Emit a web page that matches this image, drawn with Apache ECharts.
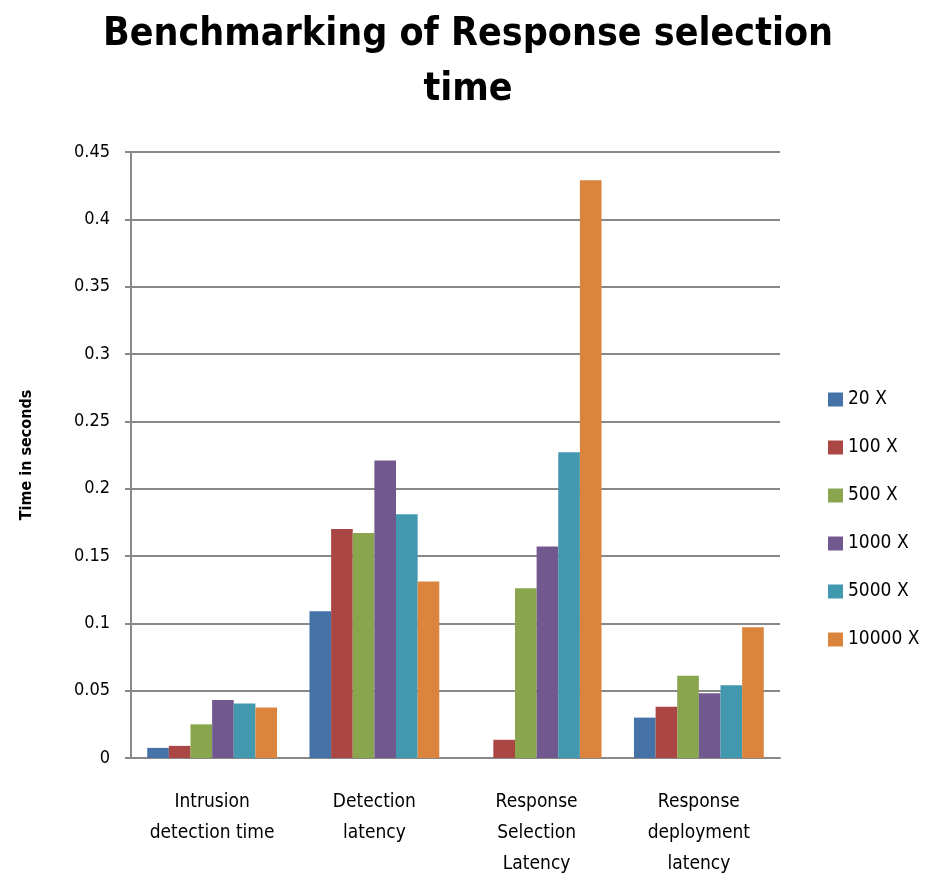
<!DOCTYPE html>
<html>
<head>
<meta charset="utf-8">
<script src="https://cdn.jsdelivr.net/npm/echarts@6/dist/echarts.min.js"></script>
<style>
  html, body { margin: 0; padding: 0; background: #fff; }
  #chart { width: 936px; height: 880px; }
</style>
</head>
<body>
<div id="chart"></div>
<script>
const categories = [
  "Intrusion\ndetection time",
  "Detection\nlatency",
  "Response\nSelection\nLatency",
  "Response\ndeployment\nlatency",
];
const seriesNames = ["20 X", "100 X", "500 X", "1000 X", "5000 X", "10000 X"];
const values20 = [0.0075, 0.109, 0, 0.030];
const values100 = [0.009, 0.170, 0.0135, 0.038];
const values500 = [0.025, 0.167, 0.126, 0.061];
const values1000 = [0.043, 0.221, 0.157, 0.048];
const values5000 = [0.0405, 0.181, 0.227, 0.054];
const values10000 = [0.0375, 0.131, 0.429, 0.097];
const colors = ["#4572A7", "#AA4643", "#89A54E", "#71588F", "#4198AF", "#DB843D"];

const font = "'Liberation Sans Narrow', 'DejaVu Sans Condensed', 'Liberation Sans', sans-serif";
const chart = echarts.init(document.getElementById("chart"));

const allValues = [values20, values100, values500, values1000, values5000, values10000];

const option = {
  animation: false,
  color: colors,
  title: {
    text: "Benchmarking of Response selection\ntime",
    left: "center",
    top: 2,
    textStyle: {
      fontFamily: font,
      fontWeight: "bold",
      fontSize: 39,
      lineHeight: 55,
      color: "#000",
    },
  },
  legend: {
    orient: "vertical",
    left: 823,
    top: 385,
    itemWidth: 15,
    itemHeight: 14,
    itemGap: 29,
    icon: "rect",
    textStyle: { fontFamily: font, fontSize: 19, color: "#000" },
    data: seriesNames,
  },
  grid: { left: 131, right: 156, top: 152, bottom: 121 },
  xAxis: {
    type: "category",
    data: categories,
    axisLine: { lineStyle: { color: "#888", width: 2 } },
    axisTick: { show: false },
    axisLabel: {
      fontFamily: font,
      fontSize: 19,
      color: "#000",
      lineHeight: 31,
      margin: 29,
    },
  },
  yAxis: {
    type: "value",
    min: 0,
    max: 0.45,
    interval: 0.05,
    name: "Time in seconds",
    nameLocation: "middle",
    nameGap: 96,
    nameTextStyle: { fontFamily: font, fontWeight: "bold", fontSize: 16, color: "#000" },
    axisLine: { show: true, lineStyle: { color: "#888", width: 2 } },
    axisTick: { show: true, length: 6, lineStyle: { color: "#888", width: 2 } },
    splitLine: { lineStyle: { color: "#888", width: 2 } },
    axisLabel: {
      fontFamily: font,
      fontSize: 18,
      color: "#000",
      margin: 21,
      formatter: function (v) { return String(+v.toFixed(2)); },
    },
  },
  series: seriesNames.map(function (name, i) {
    return {
      name: name,
      type: "bar",
      data: allValues[i],
      barGap: "0%",
      barCategoryGap: "20%",
    };
  }),
};

chart.setOption(option);
</script>
</body>
</html>
